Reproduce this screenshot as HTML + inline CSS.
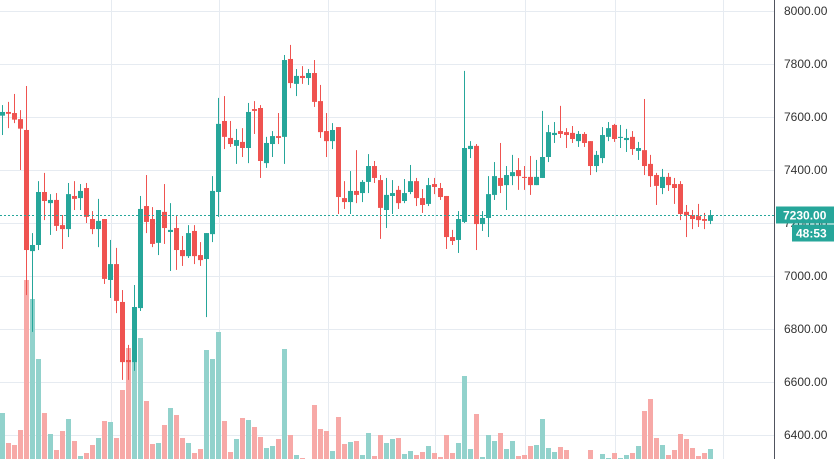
<!DOCTYPE html>
<html><head><meta charset="utf-8"><style>
html,body{margin:0;padding:0;background:#fff;width:834px;height:459px;overflow:hidden;font-family:"Liberation Sans",sans-serif}
svg{display:block}
</style></head><body>
<svg id="chart" width="834" height="459" viewBox="0 0 834 459" xmlns="http://www.w3.org/2000/svg">
<g id="grid"></g>
<g id="vol"></g>
<g id="candles"></g>
<g id="axis"></g>
</svg>
<script>
const opens=[7605,7619,7615,7592,7551,7094,7117,7317,7275,7287,7192,7177,7302,7294,7332,7215,7177,7215,6985,7045,6902,6683,6675,6879,7264,7215,7125,7242,7166,7181,7098,7075,7170,7079,7064,7158,7317,7585,7521,7491,7506,7483,7630,7634,7426,7498,7528,7525,7819,7725,7755,7747,7766,7660,7547,7509,7562,7294,7279,7321,7313,7355,7415,7362,7249,7302,7325,7283,7317,7358,7294,7272,7347,7332,7302,7147,7136,7204,7479,7491,7196,7219,7306,7370,7343,7377,7400,7374,7374,7343,7370,7449,7532,7547,7543,7540,7509,7536,7509,7415,7445,7525,7570,7521,7513,7525,7472,7475,7423,7381,7332,7374,7347,7347,7242,7230,7226,7215,7208];
const highs=[7645,7657,7687,7626,7717,7162,7358,7389,7309,7313,7230,7351,7358,7347,7351,7245,7291,7215,7136,7106,6947,6740,6966,7302,7381,7260,7249,7347,7275,7226,7151,7192,7192,7128,7162,7377,7672,7679,7585,7555,7558,7653,7660,7645,7525,7547,7615,7834,7872,7781,7792,7781,7815,7721,7615,7577,7562,7358,7396,7475,7362,7460,7434,7381,7370,7362,7340,7366,7419,7370,7328,7370,7370,7351,7302,7174,7245,7774,7509,7498,7245,7377,7430,7502,7415,7457,7445,7415,7453,7438,7623,7570,7581,7642,7558,7566,7547,7543,7509,7472,7562,7581,7574,7570,7555,7547,7506,7668,7457,7389,7404,7389,7370,7358,7268,7249,7272,7238,7249];
const lows=[7532,7558,7577,7400,6928,6789,7098,7211,7155,7170,7102,7147,7249,7249,7200,7158,7109,6970,6917,6860,6608,6608,6642,6868,7162,7109,7079,7121,7019,7023,7038,7068,7045,7038,6845,7128,7223,7479,7487,7423,7449,7426,7536,7370,7408,7449,7498,7423,7709,7679,7725,7721,7638,7521,7449,7479,7234,7253,7234,7275,7279,7313,7351,7140,7181,7234,7253,7275,7309,7264,7238,7264,7309,7287,7102,7117,7087,7200,7445,7098,7170,7147,7287,7313,7249,7343,7325,7325,7306,7343,7370,7430,7502,7521,7483,7502,7487,7487,7381,7392,7426,7509,7506,7483,7468,7457,7438,7381,7336,7268,7309,7321,7272,7211,7147,7177,7185,7177,7196];
const closes=[7619,7612,7590,7556,7098,7117,7317,7283,7287,7189,7177,7309,7291,7321,7223,7177,7208,6989,7045,6906,6675,6675,6883,7253,7204,7121,7249,7181,7174,7098,7075,7162,7075,7060,7162,7321,7574,7525,7498,7513,7483,7619,7623,7434,7502,7528,7521,7815,7728,7755,7747,7766,7657,7543,7509,7551,7298,7279,7321,7306,7355,7415,7370,7257,7306,7313,7275,7313,7358,7294,7268,7343,7336,7298,7147,7132,7215,7483,7491,7196,7219,7309,7377,7340,7381,7392,7377,7370,7343,7374,7449,7543,7540,7536,7532,7517,7536,7502,7415,7457,7532,7558,7517,7525,7521,7479,7483,7415,7377,7340,7374,7343,7332,7234,7230,7215,7211,7208,7230];
const volumes=[46,16,14,29,179,160,100,46,25,9,28,40,18,3,6,14,21,38,37,21,69,111,100,121,58,15,16,34,51,44,21,16,6,10,109,100,127,38,7,20,41,39,32,22,11,13,20,110,24,4,1,0,54,30,28,8,42,15,17,18,4,26,3,24,16,20,21,5,8,4,7,13,6,2,24,6,16,83,10,45,2,24,18,26,10,18,3,4,13,14,40,11,7,12,9,0,0,0,9,0,5,1,6,1,4,6,13,48,60,21,14,4,9,25,20,11,3,6,10];
const priceTicks=[8000,7800,7600,7400,7200,7000,6800,6600,6400];
const gridXs=[111,219,328,435,525,615,723];
const lastPrice=7230;

const NS="http://www.w3.org/2000/svg";
function yScale(p){return 11+(8000-p)*424/1600;}
function xScale(i){return 6*i+2.5;}
function vScale(v){return v;}
function mk(tag,attrs,parent){const e=document.createElementNS(NS,tag);for(const k in attrs)e.setAttribute(k,attrs[k]);parent.appendChild(e);return e;}
const grid=document.getElementById('grid'),vol=document.getElementById('vol'),cg=document.getElementById('candles'),ax=document.getElementById('axis');
priceTicks.forEach(p=>{const l=mk('line',{x1:0,x2:774,y1:yScale(p)+0.5,y2:yScale(p)+0.5,stroke:'#e6ebf1','stroke-width':1},grid);

});
gridXs.forEach(x=>{const l=mk('line',{x1:x+0.5,x2:x+0.5,y1:0,y2:459,stroke:'#e6ebf1','stroke-width':1},grid);

});
volumes.forEach((v,i)=>{const up=closes[i]>=opens[i];const h=vScale(v);if(h<=0)return;
const r=mk('rect',{x:xScale(i)-2.5,y:459-h,width:5,height:h,fill:up?'#92d2cc':'#f7a9a7'},vol);

});
opens.forEach((o,i)=>{const c=closes[i],up=c>=o,col=up?'#26a69a':'#ef5350',x=xScale(i);
const g=mk('g',{},cg);


mk('rect',{x:x-0.5,y:yScale(highs[i]),width:1,height:Math.max(1,yScale(lows[i])-yScale(highs[i])),fill:col},g);
const t=yScale(Math.max(o,c)),b=yScale(Math.min(o,c));
mk('rect',{x:x-2.5,y:t,width:5,height:Math.max(1,b-t),fill:col},g);});
// last price line
const ly=Math.round(yScale(lastPrice))+0.5;
const pl=mk('line',{x1:0,x2:774,y1:ly,y2:ly,stroke:'#26a69a','stroke-width':1,'stroke-dasharray':'2,2'},cg);


// axis
mk('rect',{x:775,y:0,width:59,height:459,fill:'#fff'},ax);
const bl=mk('line',{x1:774.5,x2:774.5,y1:0,y2:459,stroke:'#50535e','stroke-width':1},ax);


priceTicks.forEach(p=>{const t=mk('text',{x:784,y:yScale(p)+4,'font-size':12,fill:'#333','font-family':'Liberation Sans, sans-serif'},ax);t.textContent=p.toFixed(2);

});
const lb=mk('rect',{x:776,y:ly-9,width:58,height:17,fill:'#26a69a'},ax);


const lt=mk('text',{x:783,y:ly+4,'font-size':12,'font-weight':'bold',fill:'#fff','font-family':'Liberation Sans, sans-serif'},ax);lt.textContent=lastPrice.toFixed(2);


const cb=mk('rect',{x:792,y:ly+9,width:42,height:17,fill:'#26a69a'},ax);


const ct=mk('text',{x:796,y:ly+22,'font-size':12,'font-weight':'bold',fill:'#fff','font-family':'Liberation Sans, sans-serif'},ax);ct.textContent='48:53';


</script>
</body></html>
